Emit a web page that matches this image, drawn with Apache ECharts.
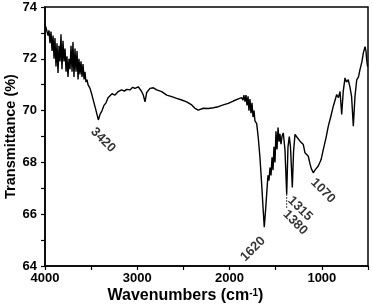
<!DOCTYPE html>
<html>
<head>
<meta charset="utf-8">
<script src="https://cdn.jsdelivr.net/npm/echarts@6.0.0/dist/echarts.min.js"></script>
<style>
  html, body { margin: 0; padding: 0; background: #fff; }
  #chart { width: 372px; height: 307px; }
</style>
</head>
<body>
<div id="chart"></div>
<script>
// spectrum (cm-1, %)
const wavenumbers = [
  4000, 3989, 3978, 3967, 3957, 3946, 3935, 3924, 3913, 3902, 3892, 3881, 3870, 3859, 3848,
  3837, 3827, 3816, 3805, 3794, 3783, 3772, 3762, 3751, 3740, 3729, 3718, 3707, 3697, 3686,
  3675, 3664, 3653, 3642, 3632, 3621, 3610, 3599, 3588, 3577, 3567, 3556, 3545, 3534, 3512,
  3491, 3469, 3447, 3422, 3404, 3382, 3361, 3339, 3317, 3296, 3274, 3241, 3209, 3169, 3140,
  3115, 3079, 3050, 3025, 2989, 2952, 2935, 2916, 2898, 2862, 2826, 2790, 2735, 2681, 2627,
  2573, 2519, 2465, 2410, 2375, 2339, 2285, 2230, 2176, 2122, 2068, 2014, 1960, 1905, 1869,
  1855, 1844, 1833, 1822, 1811, 1800, 1790, 1779, 1768, 1757, 1746, 1735, 1725, 1706, 1689,
  1671, 1652, 1638, 1624, 1611, 1598, 1584, 1573, 1562, 1551, 1540, 1529, 1519, 1508, 1497,
  1486, 1475, 1464, 1454, 1443, 1432, 1418, 1400, 1381, 1367, 1353, 1340, 1320, 1307, 1291,
  1275, 1255, 1237, 1201, 1183, 1147, 1129, 1113, 1093, 1075, 1039, 1009, 984, 955, 930,
  901, 876, 839, 820, 803, 785, 768, 749, 733, 714, 695, 678, 659, 641, 622,
  603, 587, 565, 551, 532, 522, 514, 505
];
const transmittance = [
  73.3, 73.2, 73.15, 72.9, 73.1, 72.6, 73.05, 72.3, 72.9, 72.0, 72.8, 71.7, 72.6, 71.45, 72.5,
  71.9, 72.95, 71.6, 72.7, 71.9, 72.4, 71.5, 72.1, 71.3, 72.0, 71.6, 72.5, 71.5, 72.65, 71.3,
  72.4, 71.5, 72.3, 71.2, 72.0, 71.4, 71.9, 71.3, 71.8, 71.2, 71.5, 71.1, 71.2, 71.0, 70.86,
  70.6, 70.3, 70.0, 69.64, 69.85, 70.0, 70.2, 70.3, 70.5, 70.45, 70.65, 70.6, 70.73, 70.8, 70.75,
  70.82, 70.8, 70.9, 70.86, 70.92, 70.73, 70.6, 70.34, 70.7, 70.86, 70.88, 70.8, 70.73, 70.6, 70.54,
  70.47, 70.41, 70.34, 70.22, 70.09, 70.02, 70.09, 70.08, 70.11, 70.15, 70.22, 70.28, 70.37, 70.45, 70.5,
  70.4, 70.6, 70.35, 70.6, 70.2, 70.55, 70.0, 70.45, 69.9, 70.3, 69.75, 70.0, 69.6, 69.5, 68.95,
  68.2, 67.15, 66.3, 65.5, 66.1, 66.77, 67.5, 67.3, 67.8, 67.5, 68.2, 67.7, 68.6, 68.0, 69.2,
  68.5, 69.35, 68.8, 69.1, 68.7, 69.0, 69.14, 68.5, 66.77, 68.6, 69.0, 68.6, 67.03, 68.4, 69.08,
  69.0, 68.95, 68.82, 68.69, 68.37, 68.24, 67.95, 67.75, 67.6, 67.7, 67.86, 68.1, 68.5, 68.95, 69.4,
  69.8, 70.17, 70.62, 70.5, 70.74, 69.85, 70.75, 71.26, 71.1, 71.19, 70.9, 70.55, 69.4, 70.55, 71.19,
  71.3, 71.58, 71.9, 72.22, 72.47, 72.3, 71.96, 71.7
];

// annotated bands
const peakNames = ['3420', '1620', '1380', '1315', '1070'];
const peakX = [3420, 1624, 1381, 1320, 1075];
const peakY = [69.64, 65.5, 66.77, 67.03, 67.6];
// dotted leader under the 1380 band
const leaderX = [1381, 1381];
const leaderY = [66.77, 66.2];

const xTicks = [1000, 2000, 3000, 4000];
const yTicks = [64, 66, 68, 70, 72, 74];

const font = 'Liberation Sans, Arial, sans-serif';
const chart = echarts.init(document.getElementById('chart'), null, { renderer: 'canvas' });

// label placement per band: rotation, alignment, offset along the text
const peakLabelStyle = [
  { rotate: -45, align: 'left', offset: [3, 11] },
  { rotate: 45, align: 'right', offset: [-9, 7.5] },
  { rotate: -45, align: 'left', offset: [11.5, 14] },
  { rotate: -45, align: 'left', offset: [6, 9.5] },
  { rotate: -45, align: 'left', offset: [4, 7] }
];

const option = {
  backgroundColor: '#fff',
  animation: false,
  grid: {
    left: 45, right: 4, top: 7, bottom: 41,
    outerBoundsMode: 'none',
    show: true, borderColor: '#000', borderWidth: 1.5
  },
  xAxis: {
    type: 'value',
    inverse: true,
    min: 500, max: 4000, interval: 500,
    name: 'Wavenumbers (cm{sup|-1})',
    nameLocation: 'middle',
    nameGap: 22,
    nameMoveOverlap: false,
    nameTextStyle: {
      color: '#000', fontFamily: font, fontWeight: 'bold', fontSize: 16,
      verticalAlign: 'top', padding: [0, 42, 0, 0],
      rich: { sup: { fontFamily: font, fontWeight: 'bold', fontSize: 10, verticalAlign: 'top', padding: [0, 0, 5, 0], color: '#000' } }
    },
    axisLine: { lineStyle: { color: '#000', width: 1.5 } },
    axisTick: { inside: false, length: 4, lineStyle: { color: '#000', width: 1.2 } },
    axisLabel: {
      color: '#000', fontFamily: font, fontWeight: 'bold', fontSize: 13, margin: 6,
      formatter: v => xTicks.indexOf(v) >= 0 ? String(v) : ''
    },
    splitLine: { show: false }
  },
  yAxis: {
    type: 'value',
    min: 64, max: 74, interval: 1,
    name: 'Transmittance (%)',
    nameLocation: 'middle',
    nameGap: 27,
    nameMoveOverlap: false,
    nameTextStyle: { color: '#000', fontFamily: font, fontWeight: 'bold', fontSize: 14.5 },
    axisLine: { show: true, lineStyle: { color: '#000', width: 1.5 } },
    axisTick: { show: true, inside: false, length: 4, lineStyle: { color: '#000', width: 1.2 } },
    axisLabel: {
      color: '#000', fontFamily: font, fontWeight: 'bold', fontSize: 13, margin: 8,
      formatter: v => yTicks.indexOf(v) >= 0 ? String(v) : ''
    },
    splitLine: { show: false }
  },
  series: [
    {
      name: 'spectrum',
      type: 'line',
      data: wavenumbers.map((w, i) => [w, transmittance[i]]),
      showSymbol: false,
      lineStyle: { color: '#000', width: 1.4 },
      z: 3
    },
    {
      name: 'leader',
      type: 'line',
      data: leaderX.map((w, i) => [w, leaderY[i]]),
      showSymbol: false,
      lineStyle: { color: '#000', width: 1, type: [1.5, 1.5] },
      z: 2
    },
    {
      name: 'bands',
      type: 'scatter',
      symbolSize: 0.1,
      itemStyle: { color: 'rgba(0,0,0,0)' },
      data: peakX.map((w, i) => ({
        value: [w, peakY[i]],
        label: {
          show: true,
          formatter: peakNames[i],
          position: 'inside',
          rotate: peakLabelStyle[i].rotate,
          align: peakLabelStyle[i].align,
          verticalAlign: 'middle',
          offset: peakLabelStyle[i].offset,
          color: '#000', fontFamily: font, fontWeight: 'bold', fontSize: 13
        }
      })),
      z: 4
    }
  ]
};

chart.setOption(option);
</script>
</body>
</html>
